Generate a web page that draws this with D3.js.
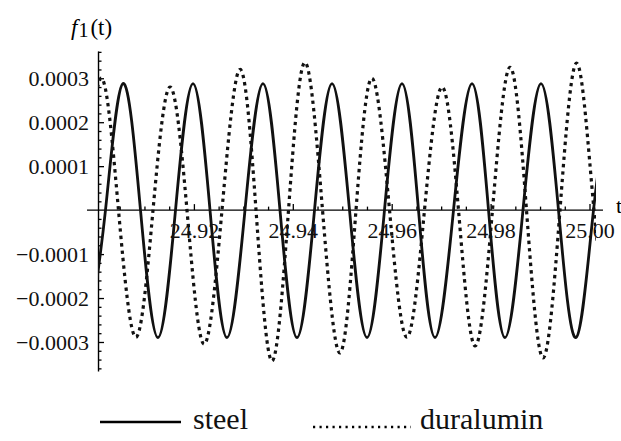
<!DOCTYPE html>
<html><head><meta charset="utf-8">
<script src="https://cdn.jsdelivr.net/npm/d3@7"></script>
<style>
  @font-face { font-family: "ChartSerif"; src: local("Liberation Serif"), local("LiberationSerif"), local("LiberationSerif-Regular"); font-style: normal; }
  @font-face { font-family: "ChartSerif"; src: local("Liberation Serif Italic"), local("LiberationSerif-Italic"); font-style: italic; }
</style>
</head>
<body style="margin:0">
<script>
// key points: extrema and zero crossings of each curve
const steelTime = [24.89869, 24.90212, 24.90566, 24.90920, 24.91274, 24.91628, 24.91982, 24.92326,
  24.92669, 24.93033, 24.93397, 24.93741, 24.94085, 24.94439, 24.94793, 24.95147, 24.95501, 24.95854,
  24.96208, 24.96542, 24.96876, 24.97250, 24.97624, 24.97958, 24.98291, 24.98655, 24.99019, 24.99373,
  24.99727, 25.00081, 25.00435];
const steelValue = [-0.00029, 0, 0.000288, 0, -0.00029, 0, 0.000288, 0, -0.00029, 0, 0.000288, 0,
  -0.00029, 0, 0.000288, 0, -0.00029, 0, 0.000288, 0, -0.00029, 0, 0.000288, 0, -0.00029, 0,
  0.000288, 0, -0.00029, 0, 0.000288];

const duralTime = [24.89414, 24.89767, 24.90121, 24.90475, 24.90829, 24.91173, 24.91517, 24.91860,
  24.92204, 24.92568, 24.92932, 24.93256, 24.93579, 24.93913, 24.94247, 24.94601, 24.94954, 24.95278,
  24.95602, 24.95956, 24.96309, 24.96663, 24.97017, 24.97351, 24.97685, 24.98038, 24.98392, 24.98726,
  24.99060, 24.99403, 24.99747, 25.00091, 25.00435];
const duralValue = [-0.00029, 0, 0.0003, 0, -0.000289, 0, 0.00028, 0, -0.000305, 0, 0.00032, 0,
  -0.000343, 0, 0.000336, 0, -0.000325, 0, 0.0003, 0, -0.000289, 0, 0.00028, 0, -0.000309, 0,
  0.000325, 0, -0.000336, 0, 0.000334, 0, -0.00031];

const xTickValues = [24.92, 24.94, 24.96, 24.98, 25.00];
const xTickLabels = ["24.92", "24.94", "24.96", "24.98", "25.00"];
const yTickValues = [-0.0003, -0.0002, -0.0001, 0.0001, 0.0002, 0.0003];
const legendLabels = ["steel", "duralumin"];

const width = 621, height = 441;
const tStart = 24.90061, tEnd = 25.00131;   // plotted range
const serif = d => "'Liberation Serif'";

const svg = d3.select("body").append("svg")
  .attr("width", width)
  .attr("height", height);

const x = d3.scaleLinear().domain([24.90, 25.00]).range([95, 589.5]);
const y = d3.scaleLinear().domain([-0.000366, 0.000362]).range([371, 51]);

const x0 = x(tStart);
const y0 = y(0);

// ---------- axes ----------
// x axis line runs a little past the plot on both sides
svg.append("line")
  .attr("x1", x0 - 11).attr("x2", x(tEnd) + 7)
  .attr("y1", y0).attr("y2", y0)
  .attr("stroke", "#000").attr("stroke-width", 1.4);

const xMinor = d3.range(1, 20).map(i => 24.90 + i * 0.005)
  .filter((d, i) => (i + 1) % 4 !== 0);

const xAxis = svg.append("g").attr("transform", `translate(0,${y0})`);
xAxis.call(d3.axisBottom(x).tickValues(xTickValues)
  .tickFormat((d, i) => xTickLabels[i])
  .tickSizeInner(-6).tickSizeOuter(0).tickPadding(12));
xAxis.select(".domain").remove();

const xAxisMinor = svg.append("g").attr("transform", `translate(0,${y0})`);
xAxisMinor.call(d3.axisBottom(x).tickValues(xMinor).tickFormat("")
  .tickSizeInner(-3.5).tickSizeOuter(0));
xAxisMinor.select(".domain").remove();

const yMinor = d3.range(-18, 19).filter(i => i % 5 !== 0).map(i => i * 0.00002);

const yAxis = svg.append("g").attr("transform", `translate(${x0},0)`);
yAxis.call(d3.axisLeft(y).tickValues(yTickValues)
  .tickFormat(d3.format(".4f"))
  .tickSizeInner(-6).tickSizeOuter(0).tickPadding(9));

const yAxisMinor = svg.append("g").attr("transform", `translate(${x0},0)`);
yAxisMinor.call(d3.axisLeft(y).tickValues(yMinor).tickFormat("")
  .tickSizeInner(-3.5).tickSizeOuter(0));
yAxisMinor.select(".domain").remove();

svg.selectAll(".domain").attr("stroke", "#000").attr("stroke-width", 1.4);
svg.selectAll(".tick line").attr("stroke", "#000").attr("stroke-width", 1.3);

// ---------- curves ----------
svg.append("clipPath").attr("id", "plot-clip")
  .append("rect")
  .attr("x", x0).attr("y", 0)
  .attr("width", x(tEnd) - x0).attr("height", height);

const line = d3.line()
  .x(d => x(d.t))
  .y(d => y(d.v))
  .curve(d3.curveNatural);

const steel = steelTime.map((t, i) => ({ t, v: steelValue[i] }));
const dural = duralTime.map((t, i) => ({ t, v: duralValue[i] }));

const curves = svg.append("g").attr("clip-path", "url(#plot-clip)");

curves.append("path")
  .datum(dural)
  .attr("d", line)
  .attr("fill", "none")
  .attr("stroke", "#111")
  .attr("stroke-width", 3.2)
  .attr("stroke-dasharray", "3.4,4");

curves.append("path")
  .datum(steel)
  .attr("d", line)
  .attr("fill", "none")
  .attr("stroke", "#111")
  .attr("stroke-width", 2.8);

// ---------- texts ----------
svg.selectAll(".tick text")
  .style("font-family", serif)
  .style("font-size", "22px")
  .attr("fill", "#111");

const fLabel = svg.append("text").attr("x", 71).attr("y", 35)
  .style("font-family", serif).style("font-size", "23px");
fLabel.append("tspan").style("font-style", "italic").text("f");
fLabel.append("tspan").attr("dx", 1).attr("dy", 2).style("font-size", "20px").text("1");
fLabel.append("tspan").attr("dx", 2).attr("dy", -2).text("(t)");

svg.append("text").attr("x", 616).attr("y", 213)
  .style("font-family", serif).style("font-size", "22px").text("t");

// ---------- legend ----------
svg.append("line")
  .attr("x1", 100).attr("x2", 181).attr("y1", 422).attr("y2", 422)
  .attr("stroke", "#000").attr("stroke-width", 2.6);
svg.append("line")
  .attr("x1", 313).attr("x2", 411).attr("y1", 427).attr("y2", 427)
  .attr("stroke", "#000").attr("stroke-width", 2.4)
  .attr("stroke-dasharray", "2.2,4.3");

svg.selectAll(".legend-label").data(legendLabels).join("text")
  .attr("class", "legend-label")
  .attr("x", (d, i) => [193, 420][i])
  .attr("y", 429)
  .style("font-family", serif)
  .style("font-size", "30px")
  .attr("fill", "#111")
  .text(d => d);
</script>
</body></html>
